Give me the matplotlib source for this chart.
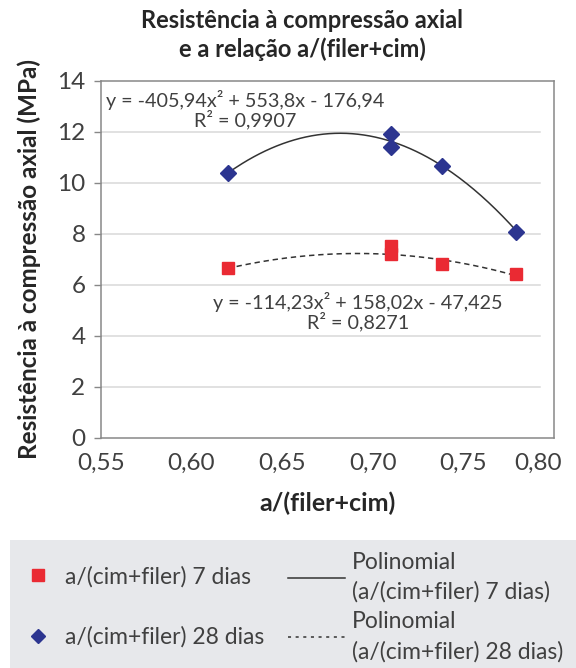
import numpy as np
import matplotlib
matplotlib.use("Agg")
import matplotlib.pyplot as plt
from matplotlib.lines import Line2D
from matplotlib.patches import Rectangle
from matplotlib.transforms import ScaledTranslation

plt.rcParams['font.family'] = ['Lato', 'DejaVu Sans']

# dados
x_a_fc = [0.62, 0.71, 0.71, 0.738, 0.779]
res_7d = [6.67, 7.53, 7.22, 6.80, 6.41]
res_28d = [10.40, 11.90, 11.40, 10.67, 8.08]

# coeficientes das linhas de tendencia (impressos no grafico)
coef_28d = [-405.94, 553.8, -176.94]
coef_7d = [-114.23, 158.02, -47.425]

x_ticks = [0.55, 0.60, 0.65, 0.70, 0.75, 0.80]
y_ticks = [0, 2, 4, 6, 8, 10, 12, 14]

cor_txt = '#404040'
vermelho = '#ea2a33'
azul = '#2c3590'

W, H = 576, 668
fig = plt.figure(figsize=(W / 100, H / 100), dpi=100)
ax = fig.add_axes([100.7 / W, 1 - 437.7 / H, 453.3 / W, 357 / H])

# grade horizontal (termina um pouco antes da borda direita)
for yv in y_ticks[1:-1]:
    ax.axhline(yv, xmin=0, xmax=0.969, color='#d9d9d9', lw=1.1, zorder=0)

# linhas de tendencia
xs = np.linspace(min(x_a_fc), max(x_a_fc), 200)
ax.plot(xs, np.polyval(coef_28d, xs), color='#333333', lw=1.1, zorder=2)
ax.plot(xs, np.polyval(coef_7d, xs), color='#333333', lw=1.1,
        ls=(0, (3.5, 2.5)), zorder=2)

ax.plot(x_a_fc, res_7d, ls='none', marker='s', ms=8.5, color=vermelho, zorder=3)
ax.plot(x_a_fc, res_28d, ls='none', marker='D', ms=8.5, color=azul, zorder=3)

ax.set_xlim(0.55, 0.80)
ax.set_ylim(0, 14)
ax.set_xticks(x_ticks)
ax.set_xticklabels([f"{v:.2f}".replace('.', ',') for v in x_ticks])
ax.set_yticks(y_ticks)
ax.tick_params(axis='x', length=0, pad=11, labelsize=17.5, labelcolor=cor_txt)
ax.tick_params(axis='y', length=5, width=1, color='#888888', pad=6,
               labelsize=17.5, labelcolor=cor_txt)
for sp in ax.spines.values():
    sp.set_color('#888888')
    sp.set_linewidth(1.1)

# o ultimo rotulo do eixo x fica deslocado para dentro da figura
ultimo = ax.get_xticklabels()[-1]
ultimo.set_transform(ultimo.get_transform() +
                     ScaledTranslation(-0.16, 0, fig.dpi_scale_trans))

ax.set_xlabel('a/(filer+cim)', fontsize=18, fontweight='bold', color='#262626',
              labelpad=13)
ax.set_ylabel('Resistência à compressão axial (MPa)', fontsize=17.5,
              fontweight='bold', color='#262626', labelpad=12)

ax.text(0.6296, 12.85, 'y = -405,94x² + 553,8x - 176,94\nR² = 0,9907',
        ha='center', va='center', fontsize=14.2, color=cor_txt, linespacing=1.0)
ax.text(0.692, 4.95, 'y = -114,23x² + 158,02x - 47,425\nR² = 0,8271',
        ha='center', va='center', fontsize=14.2, color=cor_txt, linespacing=1.0)

fig.text(302 / W, 1 - 35 / H, 'Resistência à compressão axial\ne a relação a/(filer+cim)',
         ha='center', va='center', fontsize=17, fontweight='bold',
         color='#262626', linespacing=1.3)

# area da legenda
fig.patches.append(Rectangle((10 / W, 0), 1, 128 / H, transform=fig.transFigure,
                             facecolor='#e7e8eb', edgecolor='none', zorder=0))

h_pts = [Line2D([], [], ls='none', marker='s', ms=8, color=vermelho),
         Line2D([], [], ls='none', marker='D', ms=7, color=azul)]
leg1 = fig.legend(h_pts, ['a/(cim+filer) 7 dias', 'a/(cim+filer) 28 dias'],
                  loc='center left', bbox_to_anchor=(24 / W, 1 - 607 / H),
                  frameon=False, fontsize=16.5, handlelength=1.2,
                  handletextpad=0.6, labelspacing=1.7, borderpad=0,
                  borderaxespad=0, labelcolor=cor_txt)

h_lin = [Line2D([], [], color='#333333', lw=1.1),
         Line2D([], [], color='#333333', lw=1.1, ls=(0, (2, 3)))]
leg2 = fig.legend(h_lin, ['Polinomial\n(a/(cim+filer) 7 dias)',
                          'Polinomial\n(a/(cim+filer) 28 dias)'],
                  loc='center left', bbox_to_anchor=(288 / W, 1 - 607 / H),
                  frameon=False, fontsize=16.5, handlelength=2.5,
                  handletextpad=0.3, labelspacing=0.35, borderpad=0,
                  borderaxespad=0, labelcolor=cor_txt)
for t in leg2.get_texts():
    t.set_linespacing(1.5)

fig.savefig('out.png', dpi=100)
